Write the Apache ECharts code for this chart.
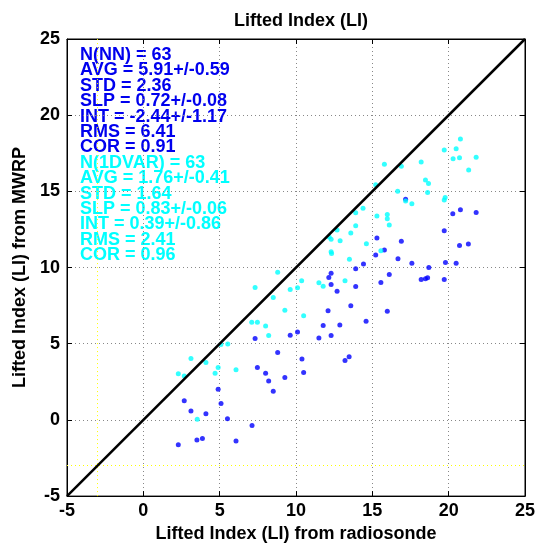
<!DOCTYPE html>
<html><head><meta charset="utf-8">
<script src="https://cdn.jsdelivr.net/npm/echarts@6/dist/echarts.min.js"></script>
<style>html,body{margin:0;padding:0;background:#fff}#c{width:544px;height:548px}</style>
</head><body><div id="c"></div>
<script>
// Radiosonde LI (x) vs MWRP LI (y) — NN retrieval (blue)
const nnX = [12.15,12.10,11.78,11.50,10.10,9.62,7.32,8.80,10.39,10.50,7.47,8.01,8.21,8.51,9.27,4.90,5.09,5.51,7.12,6.07,2.68,3.12,4.10,3.51,3.87,2.29,17.18,20.27,20.77,21.80,19.71,20.71,21.29,16.90,15.30,15.79,15.22,16.68,17.59,19.79,20.49,18.70,14.42,13.91,12.30,16.11,15.56,18.20,18.48,18.62,19.71,12.30,12.69,13.91,13.59,15.98,14.59,12.87,12.30,13.21,13.48];
const nnY = [9.35,7.17,6.19,5.38,5.77,5.56,5.34,4.42,3.99,3.12,3.44,3.07,2.55,1.88,2.79,2.01,1.07,0.07,-0.37,-1.39,1.26,0.59,0.41,-1.31,-1.22,-1.63,14.49,13.53,13.79,13.61,12.42,11.44,11.55,11.72,11.94,11.16,10.83,10.57,10.28,10.33,10.28,10.00,10.24,9.92,9.63,9.54,9.02,9.22,9.26,9.33,9.22,8.89,8.45,8.76,7.50,7.14,6.47,6.23,5.54,3.90,4.14];
// 1DVAR retrieval (cyan)
const vrX = [8.80,7.32,10.37,9.62,10.10,11.50,11.78,8.51,9.27,10.50,7.10,7.47,8.01,8.21,5.08,5.53,3.12,4.10,4.90,4.70,6.07,2.29,2.68,3.53,20.77,19.71,20.49,20.29,20.71,21.80,21.31,15.79,16.90,18.20,18.48,18.68,18.62,16.66,15.22,17.18,17.59,19.77,19.71,14.39,13.91,15.30,15.98,15.98,16.11,13.91,13.59,12.69,12.17,12.30,12.89,14.61,12.30,12.33,13.50,15.56,13.21];
const vrY = [9.69,8.69,9.13,8.56,8.67,9.00,8.78,8.04,7.19,6.84,6.41,6.41,6.16,5.54,4.95,4.99,4.03,3.77,3.44,3.07,3.29,3.03,2.88,0.05,18.43,17.71,17.80,17.14,17.21,17.24,16.41,16.78,16.65,16.93,15.75,15.51,14.92,15.01,15.44,14.36,14.18,14.59,14.44,13.90,13.59,13.38,13.48,13.20,12.79,12.75,12.27,12.46,12.01,11.85,11.76,11.57,11.03,10.93,10.54,11.11,9.13];
const diag = [-5, 25];
const thresholdLI = -3;
const axisMin = -5, axisMax = 25, axisStep = 5;
const nnStats = ["N(NN) = 63","AVG = 5.91+/-0.59","STD = 2.36","SLP = 0.72+/-0.08","INT = -2.44+/-1.17","RMS = 6.41","COR = 0.91"];
const vrStats = ["N(1DVAR) = 63","AVG = 1.76+/-0.41","STD = 1.64","SLP = 0.83+/-0.06","INT = 0.39+/-0.86","RMS = 2.41","COR = 0.96"];

const FONT = '"Liberation Sans", Arial, sans-serif';
const FS = 18;
const chart = echarts.init(document.getElementById('c'));
const pts = (xs, ys) => xs.map((x, i) => [x, ys[i]]);
const axBase = {
  type: 'value', min: axisMin, max: axisMax, interval: axisStep,
  axisLine: {show: true, onZero: false, lineStyle: {color: '#000', width: 1}},
  axisTick: {show: true, inside: true, length: 5, lineStyle: {color: '#000'}},
};
chart.setOption({
  animation: false,
  backgroundColor: '#fff',
  title: {text: 'Lifted Index (LI)', left: 296, textAlign: 'center', top: 7,
    textStyle: {fontFamily: FONT, fontSize: FS, fontWeight: 'bold', color: '#000'}},
  grid: {left: 67, right: 19, top: 39, bottom: 49, show: true, borderColor: '#000', borderWidth: 1},
  xAxis: [
    Object.assign({}, axBase, {position: 'bottom',
      name: 'Lifted Index (LI) from radiosonde', nameLocation: 'middle', nameGap: 27,
      nameTextStyle: {fontFamily: FONT, fontSize: FS, fontWeight: 'bold', color: '#000'},
      axisLabel: {fontFamily: FONT, fontSize: FS, fontWeight: 'bold', color: '#000', margin: 6},
      splitLine: {show: true, lineStyle: {color: '#888', type: [1, 3], width: 1}}}),
    Object.assign({}, axBase, {position: 'top', axisLabel: {show: false}, splitLine: {show: false}})
  ],
  yAxis: [
    Object.assign({}, axBase, {position: 'left',
      name: 'Lifted Index (LI) from MWRP', nameLocation: 'middle', nameGap: 34,
      nameTextStyle: {fontFamily: FONT, fontSize: FS, fontWeight: 'bold', color: '#000'},
      axisLabel: {fontFamily: FONT, fontSize: FS, fontWeight: 'bold', color: '#000', margin: 7},
      splitLine: {show: true, lineStyle: {color: '#888', type: [1, 3], width: 1}}}),
    Object.assign({}, axBase, {position: 'right', axisLabel: {show: false}, splitLine: {show: false}})
  ],
  series: [
    {type: 'scatter', data: pts(nnX, nnY), symbolSize: 5, itemStyle: {color: '#0000ff'}, z: 3,
      markLine: {silent: true, symbol: 'none', label: {show: false},
        lineStyle: {color: '#ffff00', type: [1, 3], width: 1},
        data: [{xAxis: thresholdLI}, {yAxis: thresholdLI}]}},
    {type: 'scatter', data: pts(vrX, vrY), symbolSize: 5, itemStyle: {color: '#00ffff'}, z: 4},
    {type: 'line', data: diag.map(v => [v, v]), symbol: 'none', z: 5,
      lineStyle: {color: '#000', width: 2.5}}
  ],
  graphic: [
    {type: 'text', left: 80, top: 46, style: {text: nnStats.join('\n'), fill: '#0000ee',
      font: 'bold ' + FS + 'px ' + FONT, lineHeight: 15.4}},
    {type: 'text', left: 80, top: 153.8, style: {text: vrStats.join('\n'), fill: '#00ffff',
      font: 'bold ' + FS + 'px ' + FONT, lineHeight: 15.4}}
  ]
});
</script></body></html>
